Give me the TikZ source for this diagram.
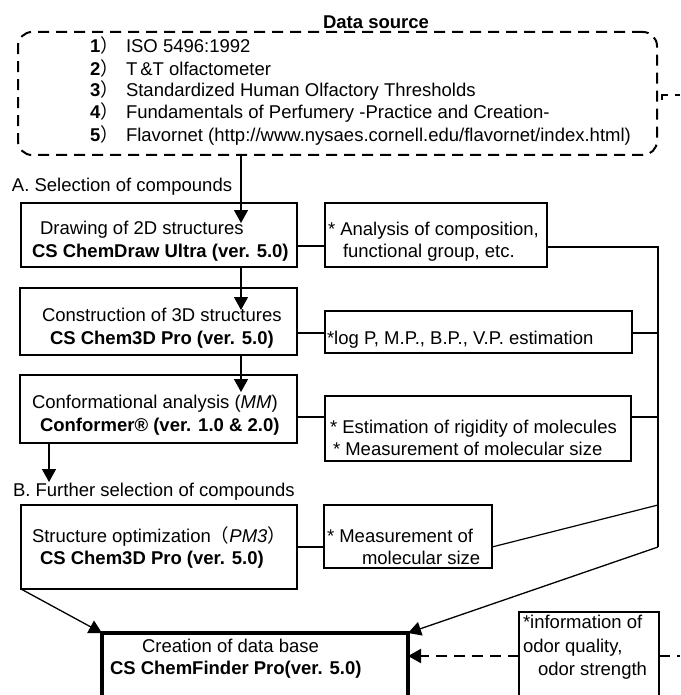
\documentclass[tikz,border=0pt]{standalone}
\usepackage{fontspec}
\setmainfont{Liberation Sans}
\newfontfamily\cjkfont{Noto Sans CJK JP}
\usetikzlibrary{arrows.meta,calc}
\begin{document}
\begin{tikzpicture}[x=1pt,y=-1pt,
  every node/.style={font=\fontsize{18.5}{22.5}\selectfont, inner sep=0pt, outer sep=0pt},
  thinbox/.style={draw, line width=1.2pt},
  firstbox/.style={draw, line width=1.5pt},
  midbox/.style={draw, line width=2.2pt},
  heavybox/.style={draw, line width=3.6pt},
  txt/.style={align=left, anchor=west},
  conn/.style={line width=1.2pt},
  arr/.style={line width=1.3pt, -{Triangle[length=13pt,width=14pt]}},
  dsh/.style={line width=2pt, dash pattern=on 11pt off 7pt},
  dsharr/.style={line width=2pt, dash pattern=on 11pt off 7pt, -{Triangle[length=13pt,width=14pt]}}
]
\useasboundingbox (0,0) rectangle (680,695);
\clip (0,0) rectangle (680,695);

% Data source
\node (title) at (376,22) {\bfseries Data source};
\node[dsh, draw, rounded corners=14pt, minimum width=639pt, minimum height=123pt] (data) at (337.5,93.5) {};
\node[anchor=west] (i1) at (90,45) {\makebox[36pt][l]{\textbf{1}{\cjkfont ）}}ISO 5496:1992};
\node[anchor=west] (i2) at (90,68) {\makebox[36pt][l]{\textbf{2}{\cjkfont ）}}T\,\&T olfactometer};
\node[anchor=west] (i3) at (90,90.5) {\makebox[36pt][l]{\textbf{3}{\cjkfont ）}}Standardized Human Olfactory Thresholds};
\node[anchor=west] (i4) at (90,113) {\makebox[36pt][l]{\textbf{4}{\cjkfont ）}}Fundamentals of Perfumery -Practice and Creation-};
\node[anchor=west] (i5) at (90,135.5) {\makebox[36pt][l]{\textbf{5}{\cjkfont ）}}Flavornet (http://www.nysaes.cornell.edu/flavornet/index.html)};

% section labels
\node[anchor=west] (labA) at (12,187) {A. Selection of compounds};
\node[anchor=west] (labB) at (13,492) {B. Further selection of compounds};

% left column boxes
\node[firstbox, minimum width=276pt, minimum height=64pt] (box1) at (159,235) {};
\node[txt] (t1) at (32,241) {\hspace*{8pt}Drawing of 2D structures\\\textbf{CS ChemDraw Ultra (ver. 5.0)}};

\node[midbox, minimum width=277pt, minimum height=67pt] (box2) at (158.5,321.5) {};
\node[txt] (t2) at (42,328) {Construction of 3D structures\\\hspace*{8pt}\textbf{CS Chem3D Pro (ver. 5.0)}};

\node[midbox, minimum width=277pt, minimum height=68pt] (box3) at (158.5,409) {};
\node[txt] (t3) at (32,415) {Conformational analysis (\textit{MM})\\\hspace*{8pt}\textbf{Conformer® (ver. 1.0 \& 2.0)}};

\node[midbox, minimum width=276pt, minimum height=84pt] (box4) at (159,547) {};
\node[txt] (t4) at (32,547.5) {Structure optimization{\cjkfont （}\textit{PM3}{\cjkfont ）}\\\hspace*{8pt}\textbf{CS Chem3D Pro (ver. 5.0)}};

% right column boxes
\node[thinbox, minimum width=222pt, minimum height=64pt] (r1) at (436,235) {};
\node[txt] (rt1) at (328,241.5) {* Analysis of composition,\\\hspace*{15pt}functional group, etc.};

\node[thinbox, minimum width=307pt, minimum height=42pt] (r2) at (478.5,332) {};
\node[txt] (rt2) at (327,340) {*log P, M.P., B.P., V.P. estimation};

\node[thinbox, minimum width=306pt, minimum height=65pt] (r3) at (478,428.5) {};
\node[txt] (rt3) at (330,438) {* Estimation of rigidity of molecules\\\hspace*{3pt}* Measurement of molecular size};

\node[thinbox, minimum width=168pt, minimum height=63pt] (r4) at (408,536.5) {};
\node[txt] (rt4) at (327,547) {* Measurement of\\\hspace*{35pt}molecular size};

% database and info
\node[heavybox, minimum width=306pt, minimum height=100pt] (db) at (255,683) {};
\node[txt] (tdb) at (110,658.5) {\hspace*{32pt}Creation of data base\\\textbf{CS ChemFinder Pro(ver. 5.0)}};

\node[thinbox, minimum width=140pt, minimum height=100pt] (info) at (589,662) {};
\node[txt, font=\fontsize{18.5}{23.5}\selectfont] (tinfo) at (523,647.5) {*information of\\odor quality,\\\hspace*{15pt}odor strength};

% coordinates
\coordinate (a1) at (241,223);
\coordinate (a2) at (241,310);
\coordinate (a3) at (241,392);
\coordinate (a4) at (49,482);
\coordinate (busA) at (658,247);
\coordinate (busB) at (658,333);
\coordinate (busC) at (658,417);
\coordinate (busD) at (658,505);
\coordinate (busE) at (658,547);
\coordinate (dashY) at (0,656);
\coordinate (rtA) at (680,95);
\coordinate (rtB) at (680,656);
\coordinate (stub) at (662,100);

% vertical flow arrows
\draw[arr] (data.south -| a1) -- (a1);
\draw[arr] (box1.south -| a2) -- (a2);
\draw[arr] (box2.south -| a3) -- (a3);
\draw[arr] (box3.south -| a4) -- (a4);

% horizontal links left -> right boxes
\draw[conn] (box1.east |- 0,246) -- (r1.west |- 0,246);
\draw[conn] (box2.east |- 0,333) -- (r2.west |- 0,333);
\draw[conn] (box3.east |- 0,417) -- (r3.west |- 0,417);
\draw[conn] (box4.east |- 0,547) -- (r4.west |- 0,547);

% bus on the right
\draw[conn] (r1.east |- busA) -- (busA) -- (busE);
\draw[conn] (r2.east |- busB) -- (busB);
\draw[conn] (r3.east |- busC) -- (busC);
\draw[conn] (r4.east |- busE) -- (busD);

% arrows into database
\draw[arr] (busE) -- (db.north east);
\draw[arr] (box4.south west) -- (db.north west);

% dashed links
\draw[dsharr] (info.west |- dashY) -- (db.east |- dashY);
\draw[dsh] (info.east |- dashY) -- (rtB);
\draw[dsh] (stub) -- (stub |- rtA) -- (rtA);
\end{tikzpicture}
\end{document}
